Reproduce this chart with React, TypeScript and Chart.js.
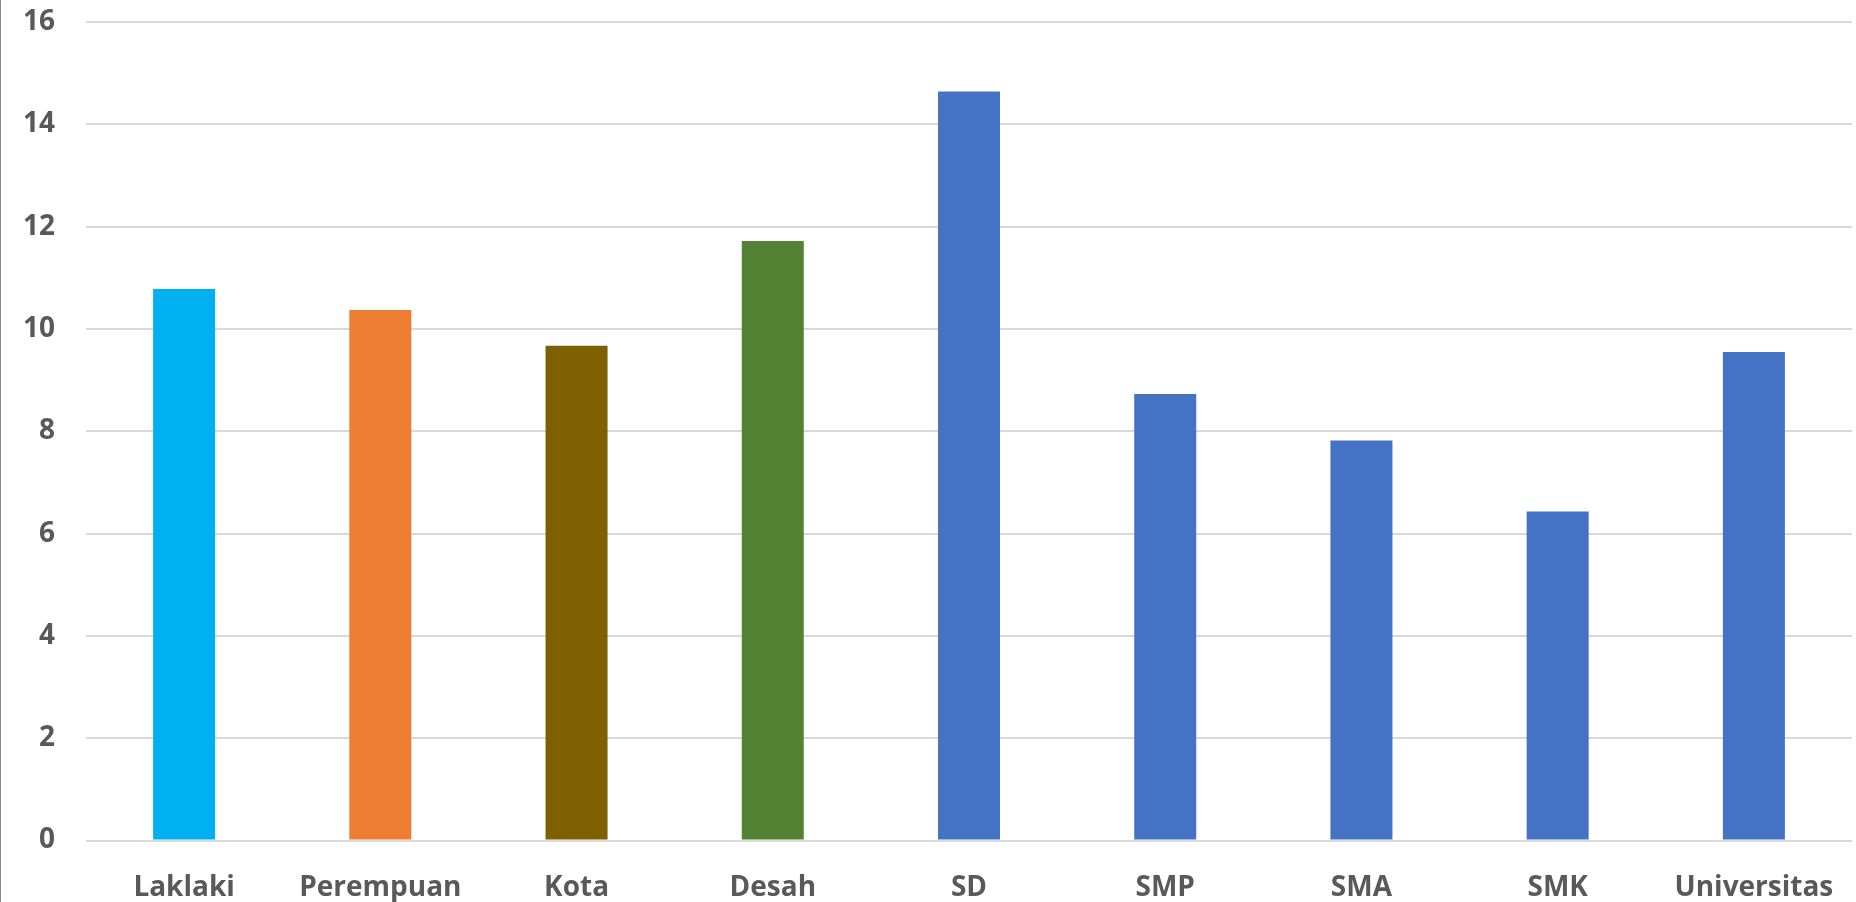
import React, { useEffect, useRef } from "react";
import { Chart, registerables } from "chart.js";

Chart.register(...registerables);

const categories = ["Laklaki", "Perempuan", "Kota", "Desah", "SD", "SMP", "SMA", "SMK", "Universitas"];
const values = [10.78, 10.37, 9.67, 11.72, 14.64, 8.73, 7.82, 6.43, 9.55];
const barColors = ["#00B0F0", "#ED7D31", "#7F6000", "#548235", "#4472C4", "#4472C4", "#4472C4", "#4472C4", "#4472C4"];
const yTicks = [0, 2, 4, 6, 8, 10, 12, 14, 16];

export default function App() {
  const ref = useRef<HTMLCanvasElement | null>(null);

  useEffect(() => {
    if (!ref.current) return;
    const font = { family: "'Open Sans', sans-serif", size: 28, weight: "bold" as const };
    const chart = new Chart(ref.current, {
      type: "bar",
      data: {
        labels: categories,
        datasets: [
          {
            data: values,
            backgroundColor: barColors,
            borderWidth: 0,
            barPercentage: 0.316,
            categoryPercentage: 1,
          },
        ],
      },
      options: {
        animation: false,
        responsive: false,
        layout: { padding: { top: 22, right: 4, bottom: 0, left: 0 } },
        plugins: { legend: { display: false }, tooltip: { enabled: false } },
        scales: {
          x: {
            grid: { display: false, drawTicks: false },
            border: { display: false },
            ticks: { color: "#595959", font, padding: 31, maxRotation: 0, autoSkip: false },
            afterFit: (s: any) => {
              s.height = 61.5;
              s.paddingLeft = 0;
              s.paddingRight = 0;
            },
          },
          y: {
            min: 0,
            max: 16,
            afterBuildTicks: (s: any) => {
              s.ticks = yTicks.map((v) => ({ value: v }));
            },
            grid: { color: "#D9D9D9", lineWidth: 2, drawTicks: false },
            border: { display: false },
            ticks: { color: "#595959", font, padding: 31 },
            afterFit: (s: any) => {
              s.width = 86;
              s.paddingTop = 0;
              s.paddingBottom = 0;
            },
          },
        },
      },
    });
    return () => chart.destroy();
  }, []);

  return (
    <div style={{ position: "absolute", left: 0, top: 0, width: 1856, height: 902, background: "#fff" }}>
      <canvas ref={ref} width={1856} height={902} style={{ display: "block" }} />
      <div style={{ position: "absolute", left: 0, top: 0, width: 1, height: 902, background: "#8c8c8c" }} />
    </div>
  );
}
